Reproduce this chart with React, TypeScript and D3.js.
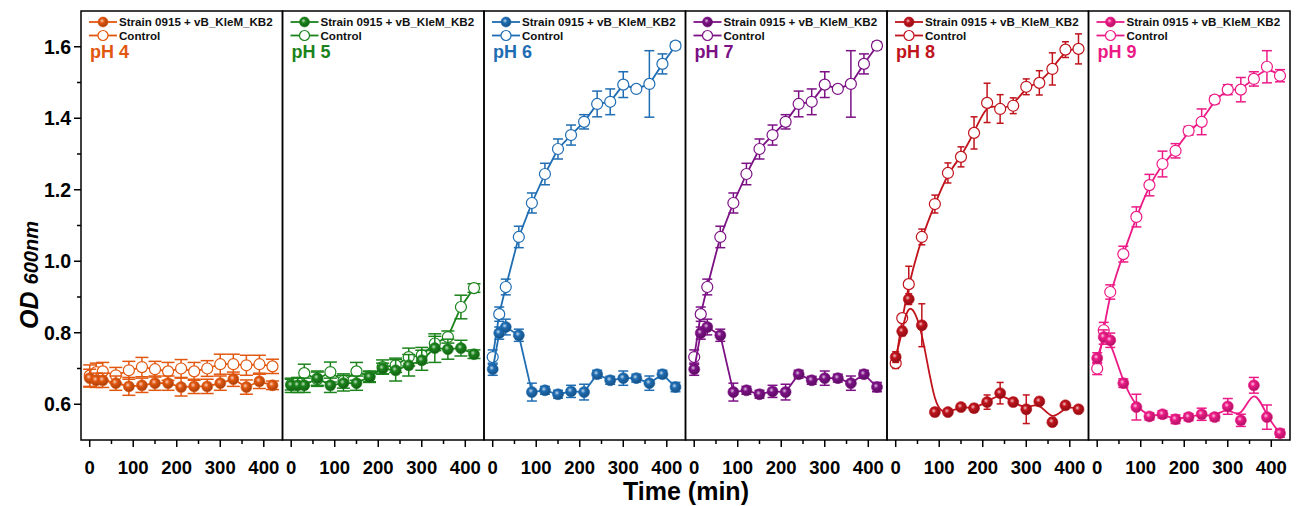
import React from 'react'
import * as d3 from 'd3'

// sampling times (min)
const times = [0, 15, 30, 60, 90, 120, 150, 180, 210, 240, 270, 300, 330, 360, 390, 420]

const phLabels = ['pH 4', 'pH 5', 'pH 6', 'pH 7', 'pH 8', 'pH 9']
const phColors = ['#e2570f', '#1b831b', '#1f6db3', '#7c1185', '#c0131c', '#ec1a86']
const legendLabels = ['Strain 0915 + vB_KleM_KB2', 'Control']
const xTicks = [0, 100, 200, 300, 400]
const yTicks = [0.6, 0.8, 1.0, 1.2, 1.4, 1.6]

const ph4Strain = [0.673, 0.667, 0.667, 0.659, 0.65, 0.653, 0.659, 0.659, 0.648, 0.65, 0.65, 0.659, 0.67, 0.648, 0.664, 0.653]
const ph4StrainErr = [0.025, 0.02, 0.02, 0.02, 0.025, 0.02, 0.02, 0.02, 0.025, 0.02, 0.02, 0.02, 0.02, 0.02, 0.02, 0.012]
const ph4Control = [0.68, 0.69, 0.692, 0.681, 0.695, 0.704, 0.698, 0.692, 0.7, 0.692, 0.7, 0.712, 0.712, 0.709, 0.712, 0.706]
const ph4ControlErr = [0.03, 0.025, 0.025, 0.022, 0.025, 0.027, 0.022, 0.025, 0.025, 0.025, 0.022, 0.028, 0.028, 0.028, 0.025, 0.02]

const ph5Strain = [0.653, 0.653, 0.653, 0.673, 0.653, 0.659, 0.659, 0.676, 0.7, 0.695, 0.709, 0.723, 0.757, 0.754, 0.757, 0.74]
const ph5StrainErr = [0.02, 0.02, 0.02, 0.02, 0.02, 0.022, 0.02, 0.015, 0.015, 0.03, 0.03, 0.028, 0.04, 0.028, 0.022, 0.012]
const ph5Control = [0.655, 0.66, 0.687, 0.67, 0.69, 0.665, 0.692, 0.678, 0.704, 0.709, 0.732, 0.737, 0.77, 0.788, 0.872, 0.925]
const ph5ControlErr = [0.015, 0.015, 0.025, 0.02, 0.028, 0.02, 0.025, 0.015, 0.02, 0.02, 0.025, 0.022, 0.02, 0.017, 0.033, 0.012]

const ph6Strain = [0.698, 0.799, 0.816, 0.793, 0.634, 0.639, 0.628, 0.636, 0.634, 0.684, 0.667, 0.673, 0.673, 0.659, 0.684, 0.648]
const ph6StrainErr = [0.017, 0.017, 0.022, 0.017, 0.025, 0.011, 0.011, 0.017, 0.022, 0.011, 0.011, 0.02, 0.011, 0.02, 0.011, 0.013]
const ph6Control = [0.732, 0.852, 0.928, 1.068, 1.163, 1.244, 1.314, 1.353, 1.39, 1.44, 1.446, 1.494, 1.482, 1.496, 1.552, 1.603]
const ph6ControlErr = [0.02, 0.02, 0.022, 0.03, 0.028, 0.03, 0.028, 0.028, 0.02, 0.036, 0.036, 0.036, 0.006, 0.093, 0.028, 0.01]

const ph7Strain = [0.698, 0.799, 0.816, 0.793, 0.634, 0.639, 0.628, 0.636, 0.634, 0.684, 0.667, 0.673, 0.673, 0.659, 0.684, 0.648]
const ph7StrainErr = [0.017, 0.017, 0.022, 0.017, 0.025, 0.011, 0.011, 0.017, 0.022, 0.011, 0.011, 0.02, 0.011, 0.02, 0.011, 0.013]
const ph7Control = [0.732, 0.852, 0.928, 1.068, 1.163, 1.244, 1.314, 1.353, 1.39, 1.44, 1.446, 1.494, 1.482, 1.496, 1.552, 1.603]
const ph7ControlErr = [0.02, 0.02, 0.022, 0.03, 0.028, 0.03, 0.028, 0.028, 0.02, 0.036, 0.036, 0.036, 0.006, 0.093, 0.028, 0.01]

const ph8Strain = [0.732, 0.804, 0.894, 0.821, 0.578, 0.578, 0.592, 0.589, 0.606, 0.631, 0.606, 0.586, 0.608, 0.55, 0.597, 0.586]
const ph8StrainErr = [0.015, 0.012, 0.015, 0.06, 0.011, 0.008, 0.008, 0.011, 0.02, 0.03, 0.011, 0.04, 0.011, 0.011, 0.008, 0.008]
const ph8Control = [0.715, 0.841, 0.936, 1.068, 1.16, 1.247, 1.292, 1.359, 1.443, 1.426, 1.435, 1.488, 1.499, 1.538, 1.592, 1.594]
const ph8ControlErr = [0.015, 0.012, 0.05, 0.022, 0.025, 0.028, 0.028, 0.045, 0.055, 0.04, 0.022, 0.022, 0.034, 0.045, 0.022, 0.042]

const ph9Strain = [0.729, 0.788, 0.779, 0.659, 0.592, 0.566, 0.572, 0.558, 0.564, 0.572, 0.564, 0.594, 0.555, 0.653, 0.564, 0.519]
const ph9StrainErr = [0.015, 0.02, 0.02, 0.012, 0.036, 0.01, 0.01, 0.012, 0.01, 0.017, 0.01, 0.022, 0.017, 0.022, 0.034, 0.011]
const ph9Control = [0.7, 0.807, 0.914, 1.02, 1.124, 1.213, 1.272, 1.309, 1.365, 1.39, 1.452, 1.48, 1.48, 1.51, 1.544, 1.519]
const ph9ControlErr = [0.017, 0.022, 0.02, 0.022, 0.028, 0.03, 0.036, 0.02, 0.012, 0.036, 0.011, 0.014, 0.034, 0.02, 0.045, 0.017]

const panels = [
  { strain: ph4Strain, strainErr: ph4StrainErr, control: ph4Control, controlErr: ph4ControlErr, cap: 6.5, smooth: false },
  { strain: ph5Strain, strainErr: ph5StrainErr, control: ph5Control, controlErr: ph5ControlErr, cap: 6.5, smooth: false },
  { strain: ph6Strain, strainErr: ph6StrainErr, control: ph6Control, controlErr: ph6ControlErr, cap: 5, smooth: false },
  { strain: ph7Strain, strainErr: ph7StrainErr, control: ph7Control, controlErr: ph7ControlErr, cap: 5, smooth: false },
  { strain: ph8Strain, strainErr: ph8StrainErr, control: ph8Control, controlErr: ph8ControlErr, cap: 3.5, smooth: true },
  { strain: ph9Strain, strainErr: ph9StrainErr, control: ph9Control, controlErr: ph9ControlErr, cap: 5, smooth: true },
]

const W = 1303
const H = 506
const margin = { top: 11, right: 13, bottom: 66, left: 81 }
const panelW = (W - margin.left - margin.right) / panels.length
const FONT = "'Liberation Sans', Arial, sans-serif"

export default function App() {
  const y = d3.scaleLinear().domain([0.5, 1.7]).range([H - margin.bottom, margin.top])
  const yMinor = d3.range(0.7, 1.6, 0.2)
  const xMinor = [50, 150, 250, 350]

  return (
    <svg width={W} height={H} style={{ position: 'absolute', left: 0, top: 0, background: '#fff' }} fontFamily={FONT}>
      <defs>
        {phColors.map((c, i) => (
          <radialGradient key={i} id={`ball${i}`} cx="40%" cy="38%" r="62%">
            <stop offset="0%" stopColor={d3.interpolateRgb(c, '#fff')(0.75)} />
            <stop offset="35%" stopColor={c} />
            <stop offset="100%" stopColor={d3.color(c)!.darker(0.9).toString()} />
          </radialGradient>
        ))}
      </defs>

      {panels.map((p, i) => {
        const x0 = margin.left + i * panelW
        const x = d3.scaleLinear().domain([-20, 443]).range([x0, x0 + panelW])
        const color = phColors[i]
        const line = d3
          .line<number>()
          .x((_, j) => x(times[j]))
          .y((d) => y(d))
          .curve(p.smooth ? d3.curveBasis : d3.curveLinear)

        const errBars = (vals: number[], errs: number[]) =>
          vals.map((v, j) => {
            const cx = x(times[j])
            const top = y(v + errs[j])
            const bot = y(v - errs[j])
            return (
              <g key={j} stroke={color} strokeWidth={1.5}>
                <line x1={cx} x2={cx} y1={top} y2={bot} />
                <line x1={cx - p.cap} x2={cx + p.cap} y1={top} y2={top} />
                <line x1={cx - p.cap} x2={cx + p.cap} y1={bot} y2={bot} />
              </g>
            )
          })

        return (
          <g key={i}>
            {/* control (open) */}
            <path d={line(p.control) || ''} fill="none" stroke={color} strokeWidth={1.8} />
            {errBars(p.control, p.controlErr)}
            {p.control.map((v, j) => (
              <circle key={j} cx={x(times[j])} cy={y(v)} r={5.5} fill="#fff" stroke={color} strokeWidth={1.2} />
            ))}
            {/* strain + phage (filled) */}
            <path d={line(p.strain) || ''} fill="none" stroke={color} strokeWidth={1.8} />
            {errBars(p.strain, p.strainErr)}
            {p.strain.map((v, j) => (
              <circle key={j} cx={x(times[j])} cy={y(v)} r={5.5} fill={`url(#ball${i})`} stroke={color} strokeWidth={0.6} />
            ))}

            {/* legend */}
            {legendLabels.map((lab, k) => {
              const ly = 22 + k * 13.5
              return (
                <g key={k}>
                  <line x1={x0 + 8} x2={x0 + 36} y1={ly} y2={ly} stroke={color} strokeWidth={1.8} />
                  <circle cx={x0 + 22} cy={ly} r={5} fill={k === 0 ? `url(#ball${i})` : '#fff'} stroke={color} strokeWidth={k === 0 ? 0.6 : 1.2} />
                  <text x={x0 + 38} y={ly} dy="0.36em" fontSize={11.6} fontWeight="bold" fill="#111">
                    {lab}
                  </text>
                </g>
              )
            })}
            <text x={x0 + 9} y={58} fontSize={18} fontWeight="bold" fill={color}>
              {phLabels[i]}
            </text>

            {/* panel frame */}
            <rect x={x0} y={margin.top} width={panelW} height={H - margin.bottom - margin.top} fill="none" stroke="#000" strokeWidth={1.5} />

            {/* x ticks */}
            {xTicks.map((t) => (
              <g key={t}>
                <line x1={x(t)} x2={x(t)} y1={H - margin.bottom} y2={H - margin.bottom + 7} stroke="#000" strokeWidth={1.5} />
                <text x={x(t)} y={474} textAnchor="middle" fontSize={18.5} fontWeight="bold" fill="#000">
                  {t}
                </text>
              </g>
            ))}
            {xMinor.map((t) => (
              <line key={t} x1={x(t)} x2={x(t)} y1={H - margin.bottom} y2={H - margin.bottom + 4} stroke="#000" strokeWidth={1.5} />
            ))}
          </g>
        )
      })}

      {/* y axis */}
      {yTicks.map((t) => (
        <g key={t}>
          <line x1={margin.left - 7} x2={margin.left} y1={y(t)} y2={y(t)} stroke="#000" strokeWidth={1.5} />
          <text x={71} y={y(t)} dy="0.36em" textAnchor="end" fontSize={19.5} fontWeight="bold" fill="#000">
            {t.toFixed(1)}
          </text>
        </g>
      ))}
      {yMinor.map((t) => (
        <line key={t} x1={margin.left - 4} x2={margin.left} y1={y(t)} y2={y(t)} stroke="#000" strokeWidth={1.5} />
      ))}

      <text x={686} y={500} textAnchor="middle" fontSize={25} fontWeight="bold" fill="#000">
        Time (min)
      </text>
      <text transform="translate(38, 275) rotate(-90)" textAnchor="middle" fontWeight="bold" fontStyle="italic" fill="#000">
        <tspan fontSize={25}>OD </tspan>
        <tspan fontSize={20}>600nm</tspan>
      </text>
    </svg>
  )
}
